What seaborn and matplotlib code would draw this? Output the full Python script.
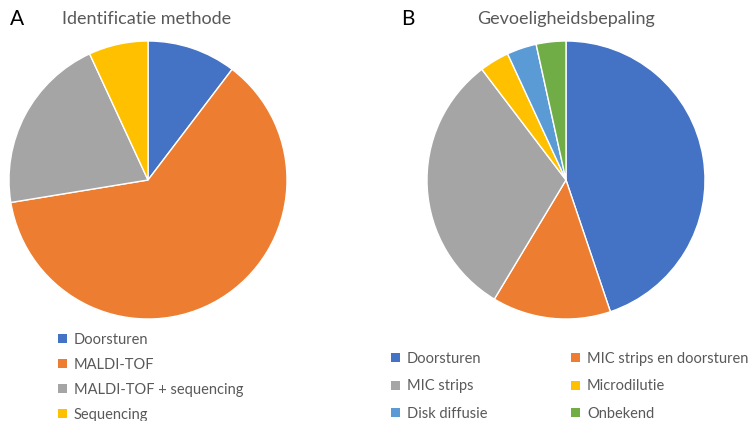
import matplotlib.pyplot as plt
import seaborn as sns
from matplotlib.patches import Patch

# Panel A: identificatie methode (counts)
id_labels = ['Doorsturen', 'MALDI-TOF', 'MALDI-TOF + sequencing', 'Sequencing']
id_counts = [3, 18, 6, 2]
id_colors = ['#4472C4', '#ED7D31', '#A5A5A5', '#FFC000']

# Panel B: gevoeligheidsbepaling (counts)
gv_labels = ['Doorsturen', 'MIC strips en doorsturen', 'MIC strips',
             'Microdilutie', 'Disk diffusie', 'Onbekend']
gv_counts = [13, 4, 9, 1, 1, 1]
gv_colors = ['#4472C4', '#ED7D31', '#A5A5A5', '#FFC000', '#5B9BD5', '#70AD47']

sns.set_style('white')
plt.rcParams['font.family'] = ['Lato', 'DejaVu Sans']

W, H = 752, 421
fig = plt.figure(figsize=(W / 100, H / 100), dpi=100)

def pie_axes(cx, cy, r):
    return fig.add_axes([(cx - r) / W, (H - cy - r) / H, 2 * r / W, 2 * r / H])

grey = '#595959'

axA = pie_axes(148, 180, 139)
axA.pie(id_counts, colors=id_colors, startangle=90, counterclock=False,
        wedgeprops=dict(edgecolor='white', linewidth=1))
axA.set_xlim(-1, 1); axA.set_ylim(-1, 1); axA.axis('off')

axB = pie_axes(566, 180, 139)
axB.pie(gv_counts, colors=gv_colors, startangle=90, counterclock=False,
        wedgeprops=dict(edgecolor='white', linewidth=1))
axB.set_xlim(-1, 1); axB.set_ylim(-1, 1); axB.axis('off')

fig.text(147 / W, 1 - 19 / H, 'Identificatie methode', ha='center', va='center',
         color=grey, fontsize=13)
fig.text(566 / W, 1 - 19 / H, 'Gevoeligheidsbepaling', ha='center', va='center',
         color=grey, fontsize=13)
fig.text(10 / W, 1 - 19 / H, 'A', ha='left', va='center', color='black', fontsize=15)
fig.text(401 / W, 1 - 19 / H, 'B', ha='left', va='center', color='black', fontsize=15)

def handles(labels, colors):
    return [Patch(facecolor=c, edgecolor='none', label=l) for l, c in zip(labels, colors)]

leg_kw = dict(loc='upper left', frameon=False, ncol=1, fontsize=10.5,
              labelcolor=grey, handlelength=0.6, handleheight=0.6,
              handletextpad=0.5, borderpad=0, borderaxespad=0)

fig.legend(handles=handles(id_labels, id_colors),
           bbox_to_anchor=(58 / W, 1 - 333 / H), labelspacing=0.75, **leg_kw)

# panel B legend is filled row by row in two columns
hB = handles(gv_labels, gv_colors)
fig.legend(handles=hB[0::2], bbox_to_anchor=(391 / W, 1 - 352 / H),
           labelspacing=0.92, **leg_kw)
fig.legend(handles=hB[1::2], bbox_to_anchor=(571 / W, 1 - 352 / H),
           labelspacing=0.92, **leg_kw)

fig.savefig('out.png', dpi=100)
